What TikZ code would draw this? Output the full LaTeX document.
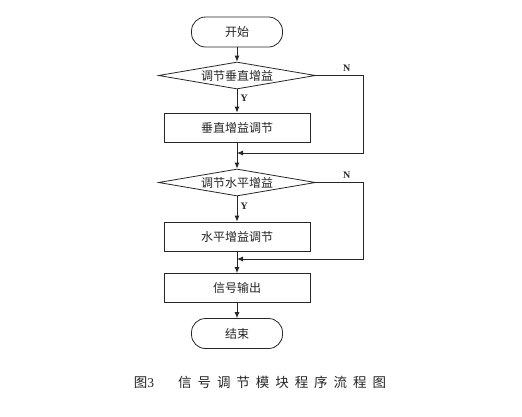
\documentclass[tikz,border=0pt]{standalone}
\usepackage{fontspec}
\setmainfont{Liberation Serif}
\newfontfamily\cjk{Noto Sans CJK SC}
\usetikzlibrary{shapes.geometric,arrows.meta}

\begin{document}
\begin{tikzpicture}[x=1pt, y=-1pt, line width=0.8pt, color=black!85,
	every node/.style={font=\cjk\fontsize{12}{14}\selectfont},
	term/.style={draw, fill=white, rounded corners=14pt, minimum width=91pt, minimum height=30pt},
	proc/.style={draw, fill=white, minimum width=146pt, minimum height=29pt},
	cond/.style={draw, fill=white, diamond, aspect=5.8, inner sep=0pt, minimum width=157pt, minimum height=27pt},
	yn/.style={font=\fontsize{10}{12}\selectfont\bfseries},
	arr/.style={-{Latex[length=6pt,width=5pt]}}]

\useasboundingbox (0,0) rectangle (522,416);

\node[term] (start) at (237,32)  {开始};
\node[cond] (vert)  at (237,75.5) {调节垂直增益};
\node[proc] (vadj)  at (237,127.5) {垂直增益调节};
\coordinate (join1) at (237,153);
\node[cond] (horz)  at (237,182.5) {调节水平增益};
\node[proc] (hadj)  at (237,236.5) {水平增益调节};
\coordinate (join2) at (237,259);
\node[proc] (out)   at (237,288) {信号输出};
\node[term] (stop)  at (237,333.5) {结束};

\draw[arr] (start) -- (vert);
\draw[arr] (vert) -- node[yn, right, pos=0.4] {Y} (vadj);
\draw[arr] (vadj) -- (horz);
\draw[arr] (vert.east) -- node[yn, above right, pos=0.5] {N} ++(47,0) |- (join1);
\draw[arr] (horz) -- node[yn, right, pos=0.4] {Y} (hadj);
\draw[arr] (hadj) -- (out);
\draw[arr] (horz.east) -- node[yn, above right, pos=0.5] {N} ++(47,0) |- (join2);
\draw[arr] (out) -- (stop);

% caption
\node (cap) at (260,382) {\fontsize{13.5}{16}\selectfont{\cjk 图}{\rmfamily 3}\hspace{24pt}\addfontfeature{LetterSpace=44}信号调节模块程序流程图};
\end{tikzpicture}
\end{document}
